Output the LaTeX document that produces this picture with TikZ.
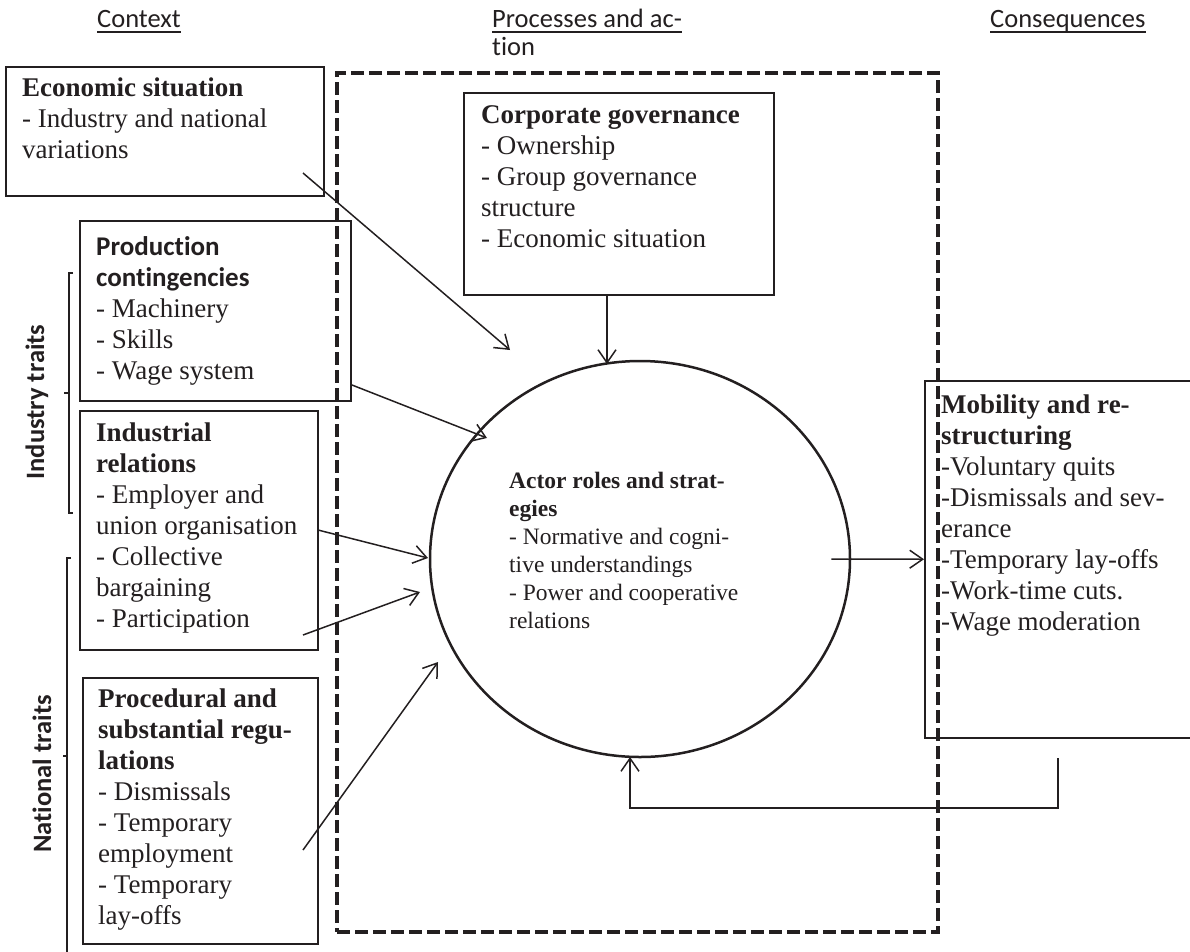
\documentclass[tikz,border=0pt]{standalone}
\usepackage{fontspec}
\setmainfont{Liberation Serif}
\newfontfamily\calfont[Ligatures=NoCommon]{Carlito}
\usetikzlibrary{arrows.meta,shapes.geometric}
\definecolor{ink}{HTML}{231F20}
\begin{document}
\begin{tikzpicture}[x=1pt,y=-1pt,
  box/.style={draw=ink, line width=1.5pt, inner sep=0pt, anchor=north west},
  frame/.style={draw=ink, line width=4pt, dash pattern=on 13pt off 5pt, inner sep=0pt, anchor=north west},
  txt/.style={anchor=north west, inner sep=0pt, align=left, text=ink, font=\fontsize{27}{31}\selectfont},
  etxt/.style={anchor=north west, inner sep=0pt, align=left, text=ink, font=\fontsize{23.5}{28}\selectfont},
  head/.style={anchor=base west, inner sep=0pt, text=ink, font=\calfont\fontsize{26.5}{31}\selectfont},
  rot/.style={rotate=90, anchor=base, inner sep=0pt, text=ink, font=\calfont\bfseries\fontsize{26.5}{31}\selectfont},
  uline/.style={draw=ink, line width=1.4pt},
  brk/.style={draw=ink, line width=1.5pt},
  arr/.style={draw=ink, line width=1.5pt, -{Straight Barb[length=13pt,width=18pt]}}
]
\useasboundingbox (0,0) rectangle (1190,951);

% column headers
\node[head] (hctx) at (97,27) {Context};
\node[head] (hproc) at (492,27) {Processes and ac-};
\node[head] (hproc2) at (492,55) {tion};
\node[head] (hcons) at (990,27) {Consequences};
\foreach \n in {hctx,hproc,hcons}
  \draw[uline] ([yshift=-5pt]\n.base west) -- ([yshift=-5pt]\n.base east);

% dashed frame
\node[frame, minimum width=601pt, minimum height=859pt] (frame) at (335,71) {};

% boxes
\node[box, minimum width=318pt, minimum height=129pt] (econ) at (5,66) {};
\node[box, minimum width=310pt, minimum height=202pt] (corp) at (463,92) {};
\node[box, minimum width=271pt, minimum height=180pt] (prod) at (79,220) {};
\node[box, minimum width=238pt, minimum height=239pt] (indrel) at (79,410) {};
\node[box, minimum width=235pt, minimum height=266pt] (proc) at (82,677) {};
\node[box, minimum width=290pt, minimum height=357pt] (mob) at (924,380) {};

% texts
\node[txt] (econT) at (22,78) {\textbf{Economic situation}\\- Industry and national\\variations};
\node[txt] (corpT) at (481,105) {\textbf{Corporate governance}\\- Ownership\\- Group governance\\structure\\- Economic situation};
\node[txt] (prodT) at (96,236) {{\calfont\bfseries Production}\\{\calfont\bfseries contingencies}\\- Machinery\\- Skills\\- Wage system};
\node[txt] (indrelT) at (96,423) {\textbf{Industrial}\\\textbf{relations}\\- Employer and\\union organisation\\- Collective\\bargaining\\- Participation};
\node[txt] (procT) at (98,689) {\textbf{Procedural and}\\\textbf{substantial regu-}\\\textbf{lations}\\- Dismissals\\- Temporary\\employment\\- Temporary\\lay-offs};
\node[txt] (mobT) at (941,395) {\textbf{Mobility and re-}\\\textbf{structuring}\\-Voluntary quits\\-Dismissals and sev-\\erance\\-Temporary lay-offs\\-Work-time cuts.\\-Wage moderation};

% ellipse
\node[draw=ink, ellipse, line width=2.5pt, minimum width=420pt, minimum height=396pt, inner sep=0pt] (actor) at (640,559) {};
\node[etxt] (actorT) at (509,472) {\textbf{Actor roles and strat-}\\\textbf{egies}\\- Normative and cogni-\\tive understandings\\- Power and cooperative\\relations};

% brackets
\draw[brk] (73,273) -- (69,273) -- (69,513) -- (73,513);
\draw[brk] (69,393) -- (64,393);
\draw[brk] (71,558) -- (67,558) -- (67,955);
\draw[brk] (67,756) -- (63,756);
\node[rot] (ind) at (44,402) {Industry traits};
\node[rot] (nat) at (51,774) {National traits};

% arrows
\coordinate (a1s) at (303,173); \coordinate (a1e) at (510,350);
\coordinate (a3s) at (352,385); \coordinate (a3e) at (487,438);
\coordinate (a4s) at (318,530); \coordinate (a4e) at (428,558);
\coordinate (a5s) at (303,635); \coordinate (a5e) at (420,592);
\coordinate (a6s) at (303,850); \coordinate (a6e) at (438,662);
\coordinate (cgE) at (607,364);
\coordinate (fbS) at (1058,758);
\coordinate (fbC) at (1058,808);
\coordinate (fbE) at (630,757);
\draw[arr] (a1s) -- (a1e);
\draw[arr] (a3s) -- (a3e);
\draw[arr] (a4s) -- (a4e);
\draw[arr] (a5s) -- (a5e);
\draw[arr] (a6s) -- (a6e);
\draw[arr] (cgE |- corp.south) -- (cgE);
\draw[arr] ([xshift=-20pt]actor.east) -- (mob.west);
\draw[arr] (fbS) -- (fbC) -| (fbE);
\end{tikzpicture}
\end{document}
